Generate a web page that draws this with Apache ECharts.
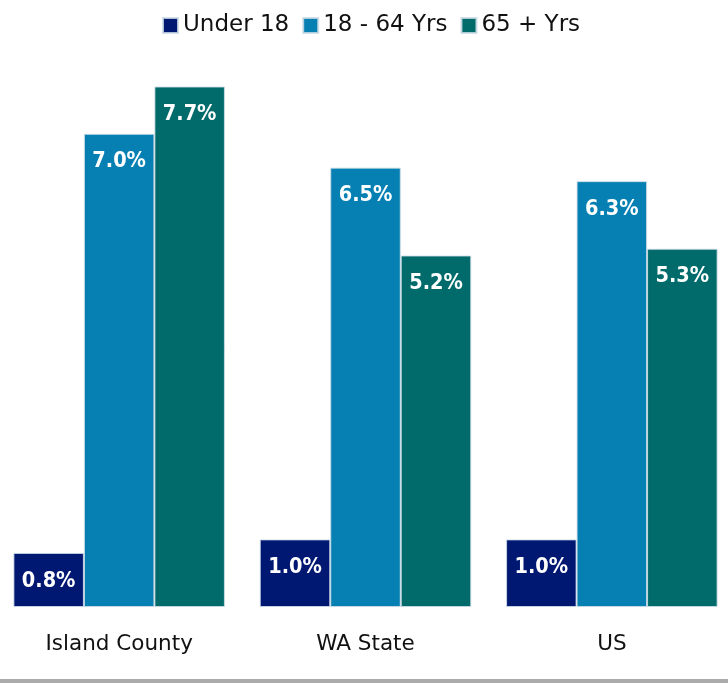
<!DOCTYPE html>
<html><head><meta charset="utf-8">
<script src="https://cdn.jsdelivr.net/npm/echarts@6/dist/echarts.min.js"></script>
<style>
html,body{margin:0;padding:0;background:#fff;overflow:hidden;width:728px;height:683px;}
#wrap{position:relative;width:728px;height:679px;border-bottom:4px solid #ababab;overflow:hidden;}
#c{position:absolute;left:-4px;top:0;width:739px;height:679px;}
</style></head>
<body><div id="wrap"><div id="c"></div></div>
<script>
const categories = ['Island County', 'WA State', 'US'];
const under18 = [0.8, 1.0, 1.0];
const age18to64 = [7.0, 6.5, 6.3];
const age65plus = [7.7, 5.2, 5.3];
const seriesNames = ['Under 18', '18 - 64 Yrs', '65 + Yrs'];
const colors = ['#011872', '#0680B2', '#016B6B'];

const chart = echarts.init(document.getElementById('c'));
const lbl = {
  show: true, position: 'insideTop', distance: 17,
  color: '#fff', fontWeight: 'bold', fontSize: 21.5,
  fontFamily: '"DejaVu Sans Condensed", "DejaVu Sans", sans-serif',
  formatter: p => p.value.toFixed(1) + '%'
};
const mk = (name, data, color) => ({
  name, type: 'bar', data, barWidth: 70.5, barGap: '0%',
  itemStyle: { color, borderColor: 'rgba(205,220,230,0.85)', borderWidth: 1 },
  label: lbl, emphasis: { disabled: true }
});
chart.setOption({
  animation: false,
  legend: {
    top: 9, left: 161, itemWidth: 15, itemHeight: 15, itemGap: 13,
    icon: 'rect',
    textStyle: { fontSize: 23, color: '#111', fontFamily: '"DejaVu Sans", sans-serif' },
    data: seriesNames
  },
  grid: { left: 0, right: 0, top: 0, bottom: 72, containLabel: false },
  xAxis: {
    type: 'category', data: categories,
    axisLine: { show: false }, axisTick: { show: false },
    axisLabel: { margin: 26, fontSize: 21.5, color: '#111', fontFamily: '"DejaVu Sans", sans-serif' }
  },
  yAxis: { type: 'value', min: 0, max: 8.98, show: false, splitLine: { show: false } },
  series: [
    mk(seriesNames[0], under18, colors[0]),
    mk(seriesNames[1], age18to64, colors[1]),
    mk(seriesNames[2], age65plus, colors[2])
  ]
});
</script></body></html>
